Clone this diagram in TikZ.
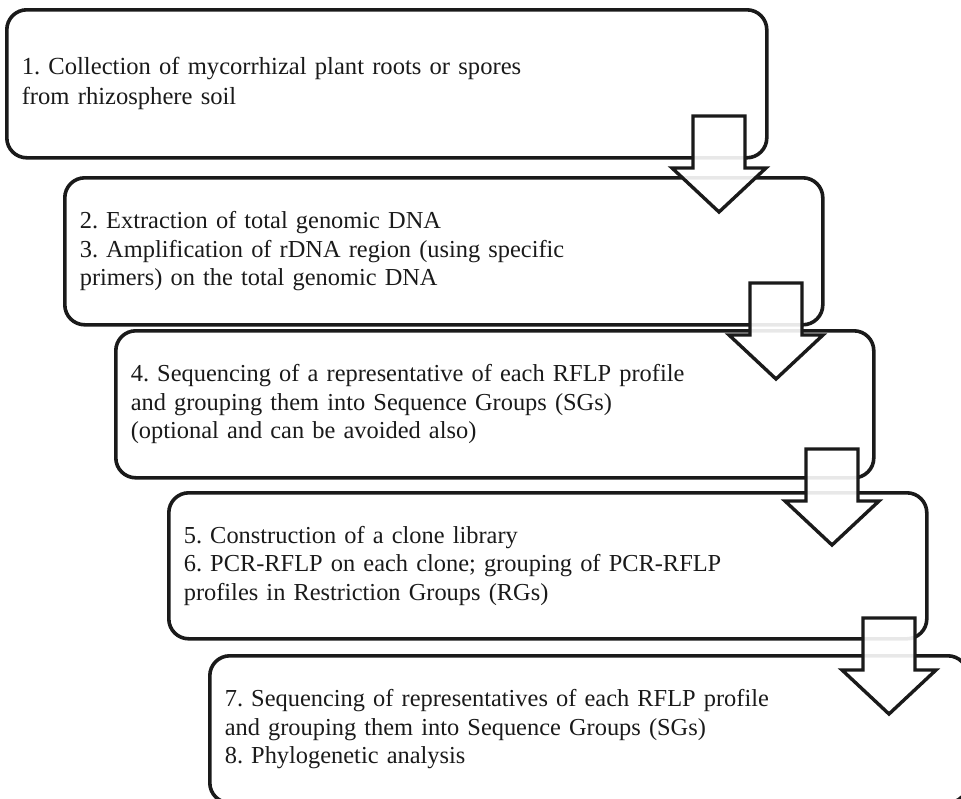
\documentclass[tikz,border=0pt]{standalone}
\usepackage{fontspec}
\setmainfont{Liberation Serif}
\definecolor{ink}{HTML}{1A1A1A}
\frenchspacing
\begin{document}
\begin{tikzpicture}[x=1pt,y=-1pt,
  stepbox/.style={draw=ink, line width=3.6pt, rounded corners=20pt,
    anchor=north west, minimum width=758pt, minimum height=147pt,
    text width=728pt, align=left, inner xsep=15pt, inner ysep=0pt,
    font=\fontsize{24.4}{28.5}\selectfont, text=ink},
  firstbox/.style={stepbox, minimum width=760pt, minimum height=148pt,
    text width=730pt, font=\fontsize{24.6}{30}\selectfont},
  blockarrow/.style={draw=ink, line width=3.4pt, fill=white,
    fill opacity=0.9, line join=miter},
  downarrow/.pic={\draw[blockarrow] (-26,0) -- (26,0) -- (26,52) -- (47,52)
    -- (0,96) -- (-47,52) -- (-26,52) -- cycle;}]
\useasboundingbox (0,0) rectangle (961,798);
\clip (0,0) rectangle (961,798);

% process steps
\node[firstbox] (b1) at (5,8)
  {1. Collection of mycorrhizal plant roots or spores\\from rhizosphere soil};
\node[stepbox] (b2) at (63,176)
  {2. Extraction of total genomic DNA\\3. Amplification of rDNA region (using specific\\primers) on the total genomic DNA};
\node[stepbox] (b3) at (114,329)
  {4. Sequencing of a representative of each RFLP profile\\and grouping them into Sequence Groups (SGs)\\(optional and can be avoided also)};
\node[stepbox, minimum height=146pt] (b4) at (167,491)
  {5. Construction of a clone library\\6. PCR-RFLP on each clone; grouping of PCR-RFLP\\profiles in Restriction Groups (RGs)};
\node[stepbox] (b5) at (208,654)
  {7. Sequencing of representatives of each RFLP profile\\and grouping them into Sequence Groups (SGs)\\8. Phylogenetic analysis};

% block arrows between the steps
\pic (a1) at (719,116) {downarrow};
\pic (a2) at (776,283) {downarrow};
\pic (a3) at (832,449) {downarrow};
\pic (a4) at (889,618) {downarrow};
\end{tikzpicture}
\end{document}
